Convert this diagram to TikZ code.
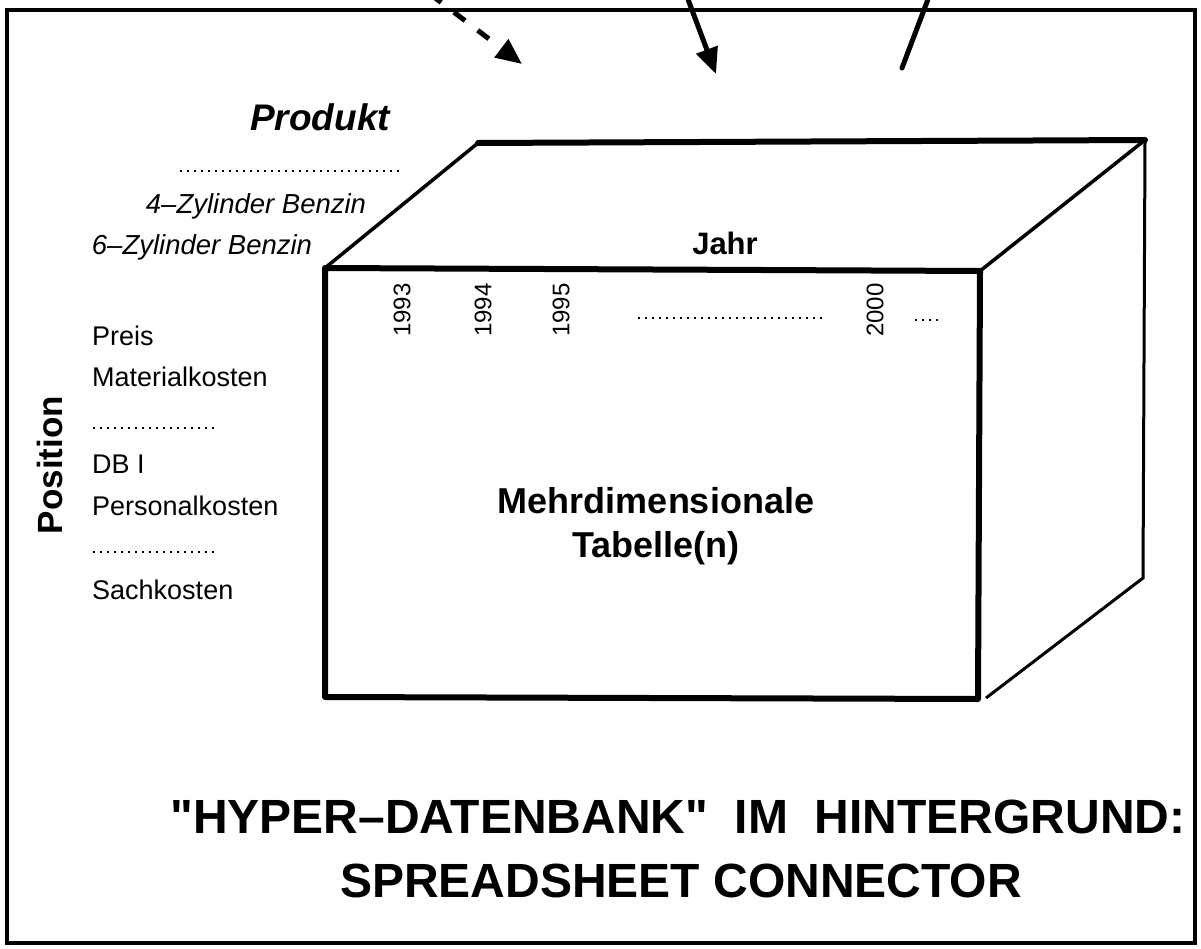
\documentclass[tikz,border=0pt]{standalone}
\usepackage{fontspec}
\setmainfont{Liberation Sans}[Ligatures=TeXOff]
\usetikzlibrary{arrows.meta}
\begin{document}
\begin{tikzpicture}[x=1pt,y=-1pt,
  lbl/.style={inner sep=0pt,anchor=west,font=\fontsize{27}{27}\selectfont},
  ital/.style={inner sep=0pt,font=\fontsize{27.5}{27.5}\selectfont\itshape},
  year/.style={inner sep=0pt,rotate=90,font=\fontsize{24}{24}\selectfont},
  dotline/.style={line width=1.8pt,dash pattern=on 1.8pt off 5.2pt},
  thick edge/.style={line width=6pt,line cap=round,line join=round},
  thin edge/.style={line width=3.5pt,line cap=round},
  arr/.style={line width=5pt,-{Triangle[length=26pt,width=22pt]}}]
\useasboundingbox (0,0) rectangle (1201,949);
\fill[white] (0,0) rectangle (1201,949);
% frame
\draw[line width=4pt] (7,10) rectangle (1195,943);
% incoming arrows from above
\coordinate (a1s) at (430,-6);
\coordinate (a1e) at (522,64);
\draw[arr,dash pattern=on 14pt off 16pt] (a1s) -- (a1e);
\coordinate (a2s) at (686,-6);
\coordinate (a2e) at (716,74);
\draw[arr] (a2s) -- (a2e);
\coordinate (a3s) at (930,-6);
\coordinate (a3e) at (902,68);
\draw[line width=5pt,line cap=round] (a3s) -- (a3e);
% cube
\coordinate (ftl) at (325,268);
\coordinate (ftr) at (980,271);
\coordinate (fbr) at (978,699);
\coordinate (fbl) at (325,697);
\coordinate (btl) at (478,143);
\coordinate (btr) at (1145,140);
\coordinate (bbr) at (1143,578);
\draw[thin edge] (ftl) -- (btl);
\draw[thin edge] (ftr) -- (btr);
\draw[line width=3pt] (btr) -- (bbr) -- (986,698);
\draw[thick edge] (btl) -- (btr);
\draw[thick edge] (ftl) -- (ftr) -- (fbr) -- (fbl) -- cycle;
% Produkt axis
\node[inner sep=0pt,font=\fontsize{37}{37}\selectfont\bfseries\itshape] (produkt) at (320,117) {Produkt};
\draw[dotline] (180,171) -- (400,171);
\node[ital] (z4) at (256,206) {4–Zylinder Benzin};
\node[ital] (z6) at (202,247) {6–Zylinder Benzin};
% Jahr axis
\node[inner sep=0pt,font=\fontsize{31}{31}\selectfont\bfseries] (jahr) at (725,243) {Jahr};
\node[year] (y93) at (402,310) {1993};
\node[year] (y94) at (483,310) {1994};
\node[year] (y95) at (561,310) {1995};
\draw[dotline] (638,318) -- (826,318);
\node[year] (y00) at (875,310) {2000};
\draw[dotline] (915,320) -- (940,320);
% Position axis
\node[inner sep=0pt,rotate=90,font=\fontsize{35}{35}\selectfont\bfseries] (position) at (50,465) {Position};
\node[lbl] (preis) at (92,336) {Preis};
\node[lbl] (mat) at (92,377) {Materialkosten};
\draw[dotline] (93,428) -- (215,428);
\node[lbl] (db) at (92,464) {DB I};
\node[lbl] (pers) at (92,506) {Personalkosten};
\draw[dotline] (93,552) -- (215,552);
\node[lbl] (sach) at (92,590) {Sachkosten};
% center
\node[inner sep=0pt,align=center,font=\fontsize{36}{44}\selectfont\bfseries] (mehr) at (656,526) {Mehrdimensionale\\Tabelle(n)};
% title
\node[inner sep=0pt,font=\fontsize{48}{48}\selectfont\bfseries] (t1) at (678,817) {"HYPER–DATENBANK"\ \ IM\ \ HINTERGRUND:};
\node[inner sep=0pt,font=\fontsize{48}{48}\selectfont\bfseries] (t2) at (681,881) {SPREADSHEET CONNECTOR};
\end{tikzpicture}
\end{document}
